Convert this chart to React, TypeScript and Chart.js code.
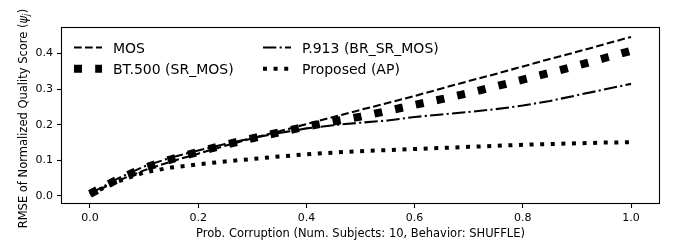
import React, { useEffect, useRef } from 'react';
import { Chart, registerables } from 'chart.js';

Chart.register(...registerables);

// ---- data ----
const xValues = [0, 0.05, 0.1, 0.15, 0.2, 0.25, 0.3, 0.35, 0.4, 0.45, 0.5, 0.55, 0.6, 0.65, 0.7, 0.75, 0.8, 0.85, 0.9, 0.95, 1.0];
const mosValues = [0.005, 0.042, 0.072, 0.097, 0.119, 0.141, 0.162, 0.182, 0.202, 0.222, 0.242, 0.261, 0.281, 0.302, 0.323, 0.343, 0.364, 0.385, 0.405, 0.426, 0.447];
const bt500Values = [0.006, 0.046, 0.079, 0.103, 0.124, 0.144, 0.162, 0.179, 0.195, 0.209, 0.223, 0.239, 0.256, 0.272, 0.289, 0.308, 0.327, 0.346, 0.366, 0.387, 0.408];
const p913Values = [0.006, 0.048, 0.083, 0.108, 0.128, 0.146, 0.163, 0.177, 0.190, 0.199, 0.206, 0.212, 0.222, 0.229, 0.236, 0.244, 0.254, 0.267, 0.283, 0.299, 0.315];
const proposedValues = [0.005, 0.040, 0.066, 0.080, 0.089, 0.097, 0.104, 0.111, 0.117, 0.122, 0.126, 0.129, 0.132, 0.135, 0.138, 0.141, 0.144, 0.146, 0.148, 0.150, 0.151];

const seriesLabels = ['MOS', 'BT.500 (SR_MOS)', 'P.913 (BR_SR_MOS)', 'Proposed (AP)'];
const xTicks = [0, 0.2, 0.4, 0.6, 0.8, 1.0];
const yTicks = [0, 0.1, 0.2, 0.3, 0.4];
const xTitle = 'Prob. Corruption (Num. Subjects: 10, Behavior: SHUFFLE)';
const yTitleMain = 'RMSE of Normalized Quality Score (';
const yTitleSymbol = 'ψ';
const yTitleSub = 'j';
const yTitleEnd = ')';

const FONT = '"DejaVu Sans", sans-serif';

const toPoints = (ys: number[]) => xValues.map((x, i) => ({ x, y: ys[i] }));

const framePlugin = {
  id: 'frameAndText',
  afterDraw(chart: any) {
    const { ctx, chartArea } = chart;
    const { left, right, top, bottom } = chartArea;
    ctx.save();
    // frame
    ctx.strokeStyle = '#000';
    ctx.lineWidth = 1.1;
    ctx.setLineDash([]);
    ctx.strokeRect(left - 0.5, top - 0.5, right - left + 1, bottom - top + 1);

    // legend
    const dsets = chart.data.datasets;
    const cols = [left + 12, left + 201];
    const rows = [top + 19.5, top + 40.7];
    const order = [0, 1, 2, 3];
    order.forEach((di, k) => {
      const ds = dsets[di];
      const col = Math.floor(k / 2);
      const row = k % 2;
      const hx = cols[col];
      const hy = rows[row];
      ctx.beginPath();
      ctx.strokeStyle = ds.borderColor;
      ctx.lineWidth = ds.borderWidth;
      ctx.lineCap = 'butt';
      ctx.setLineDash(ds.borderDash || []);
      ctx.lineDashOffset = 0;
      ctx.moveTo(hx, hy);
      ctx.lineTo(hx + 28, hy);
      ctx.stroke();
      ctx.setLineDash([]);
      ctx.fillStyle = '#000';
      ctx.font = `14px ${FONT}`;
      ctx.textAlign = 'left';
      ctx.textBaseline = 'alphabetic';
      ctx.fillText(ds.label, hx + 39, hy + 5.1);
    });

    // x title
    ctx.fillStyle = '#000';
    ctx.font = `11.5px ${FONT}`;
    ctx.textAlign = 'center';
    ctx.textBaseline = 'alphabetic';
    ctx.fillText(xTitle, (left + right) / 2, 236.5);

    // y title (rotated, with italic psi_j)
    const mainFont = `11.5px ${FONT}`;
    const symFont = `italic 11.5px ${FONT}`;
    const subFont = `italic 8px ${FONT}`;
    ctx.font = mainFont;
    const w1 = ctx.measureText(yTitleMain).width;
    const w4 = ctx.measureText(yTitleEnd).width;
    ctx.font = symFont;
    const w2 = ctx.measureText(yTitleSymbol).width;
    ctx.font = subFont;
    const w3 = ctx.measureText(yTitleSub).width;
    const total = w1 + w2 + w3 + w4 + 0.5;
    ctx.translate(26.7, 118.5);
    ctx.rotate(-Math.PI / 2);
    ctx.textAlign = 'left';
    let cx = -total / 2;
    ctx.font = mainFont;
    ctx.fillText(yTitleMain, cx, 0);
    cx += w1;
    ctx.font = symFont;
    ctx.fillText(yTitleSymbol, cx, 0);
    cx += w2;
    ctx.font = subFont;
    ctx.fillText(yTitleSub, cx, 2.2);
    cx += w3 + 0.5;
    ctx.font = mainFont;
    ctx.fillText(yTitleEnd, cx, 0);
    ctx.restore();
  },
};

export default function App() {
  const canvasRef = useRef<HTMLCanvasElement | null>(null);

  useEffect(() => {
    document.body.style.margin = '0';
    const canvas = canvasRef.current;
    if (!canvas) return;
    const chart = new Chart(canvas, {
      type: 'line',
      data: {
        datasets: [
          {
            label: seriesLabels[0],
            data: toPoints(mosValues),
            borderColor: '#000',
            borderWidth: 2.08,
            borderDash: [7.7, 3.3],
            pointRadius: 0,
            fill: false,
            tension: 0,
            order: 3,
          },
          {
            label: seriesLabels[1],
            data: toPoints(bt500Values),
            borderColor: '#000',
            borderWidth: 8,
            borderDash: [8, 13.2],
            pointRadius: 0,
            fill: false,
            tension: 0,
            order: 2,
          },
          {
            label: seriesLabels[2],
            data: toPoints(p913Values),
            borderColor: '#000',
            borderWidth: 2.08,
            borderDash: [13.3, 3.3, 2.1, 3.3],
            pointRadius: 0,
            fill: false,
            tension: 0,
            order: 1,
          },
          {
            label: seriesLabels[3],
            data: toPoints(proposedValues),
            borderColor: '#000',
            borderWidth: 4,
            borderDash: [4, 6.6],
            pointRadius: 0,
            fill: false,
            tension: 0,
            order: 0,
          },
        ],
      },
      options: {
        animation: false,
        responsive: false,
        devicePixelRatio: 1,
        layout: { padding: { left: 0, top: 28, right: 16, bottom: 0 } },
        plugins: {
          legend: { display: false },
          tooltip: { enabled: false },
        },
        scales: {
          x: {
            type: 'linear',
            min: -0.0517,
            max: 1.0517,
            afterBuildTicks: (axis: any) => {
              axis.ticks = xTicks.map((v) => ({ value: v }));
            },
            afterFit: (axis: any) => {
              axis.height = 38;
            },
            grid: {
              drawOnChartArea: false,
              drawTicks: true,
              tickLength: 5,
              tickWidth: 1.1,
              tickColor: '#000',
            },
            border: { display: false },
            ticks: {
              color: '#000',
              font: { family: FONT, size: 11 },
              padding: 4,
              maxRotation: 0,
              autoSkip: false,
              callback: (v: any) => Number(v).toFixed(1),
            },
          },
          y: {
            type: 'linear',
            min: -0.0197,
            max: 0.472,
            afterBuildTicks: (axis: any) => {
              axis.ticks = yTicks.map((v) => ({ value: v }));
            },
            afterFit: (axis: any) => {
              axis.width = 62;
            },
            grid: {
              drawOnChartArea: false,
              drawTicks: true,
              tickLength: 5,
              tickWidth: 1.1,
              tickColor: '#000',
            },
            border: { display: false },
            ticks: {
              color: '#000',
              font: { family: FONT, size: 11 },
              padding: 4,
              autoSkip: false,
              callback: (v: any) => Number(v).toFixed(1),
            },
          },
        },
      },
      plugins: [framePlugin],
    });
    return () => chart.destroy();
  }, []);

  return (
    <div style={{ position: 'fixed', left: 0, top: 0, width: 675, height: 241, background: '#fff' }}>
      <canvas ref={canvasRef} width={675} height={241} style={{ width: 675, height: 241, display: 'block' }} />
    </div>
  );
}
